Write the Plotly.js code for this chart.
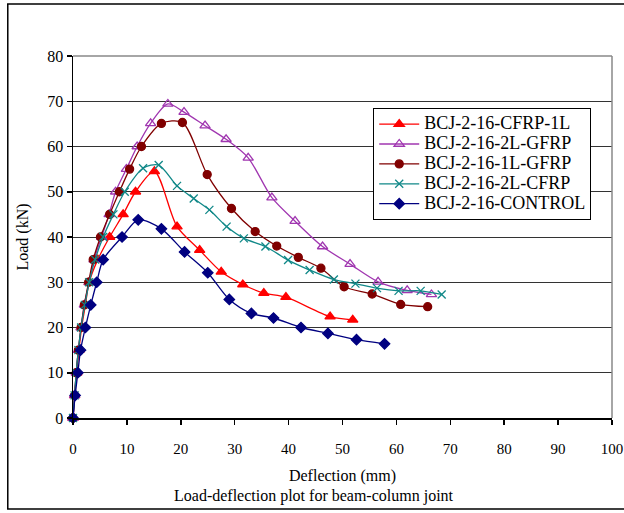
<!DOCTYPE html>
<html>
<head>
<meta charset="utf-8">
<script src="https://cdn.plot.ly/plotly-3.0.1.min.js"></script>
<style>html,body{margin:0;padding:0;background:#fff;}#chart{width:624px;height:513px;}</style>
</head>
<body>
<div id="chart"></div>
<script>
// Series names
const seriesNames = ["BCJ-2-16-CFRP-1L", "BCJ-2-16-2L-GFRP", "BCJ-2-16-1L-GFRP", "BCJ-2-16-2L-CFRP", "BCJ-2-16-CONTROL"];

// BCJ-2-16-CFRP-1L
const cfrp1L_x = [0, 0.3, 0.7, 1.1, 1.6, 2.3, 3.0, 4.6, 6.8, 9.3, 11.6, 15.1, 19.3, 23.5, 27.5, 31.5, 35.4, 39.5, 47.7, 51.9];
const cfrp1L_y = [0, 5, 10, 15, 20, 25, 30, 35, 40, 45, 50, 54.5, 42.3, 37.1, 32.3, 29.5, 27.6, 26.7, 22.4, 21.7];

// BCJ-2-16-2L-GFRP
const gfrp2L_x = [0, 0.3, 0.6, 1.0, 1.5, 2.1, 3.0, 3.9, 5.3, 6.7, 7.9, 9.9, 11.9, 14.4, 17.6, 20.6, 24.5, 28.4, 32.5, 36.9, 41.2, 46.3, 51.4, 56.6, 62.0, 66.5];
const gfrp2L_y = [0, 5, 10, 15, 20, 25, 30, 35, 40, 45, 50, 55, 60, 65.1, 69.4, 67.6, 64.6, 61.6, 57.5, 48.7, 43.5, 37.9, 34.0, 30.1, 28.2, 27.3];

// BCJ-2-16-1L-GFRP
const gfrp1L_x = [0, 0.3, 0.6, 1.0, 1.5, 2.1, 2.9, 3.75, 5.1, 6.8, 8.6, 10.5, 12.7, 16.4, 20.3, 24.9, 29.4, 33.8, 37.8, 41.8, 46.0, 50.3, 55.5, 60.8, 65.8];
const gfrp1L_y = [0, 5, 10, 15, 20, 25, 30, 35, 40, 45, 50, 55, 60, 65.1, 65.3, 53.8, 46.3, 41.2, 38.0, 35.5, 33.1, 29.0, 27.4, 25.1, 24.6];

// BCJ-2-16-2L-CFRP
const cfrp2L_x = [0, 0.3, 0.6, 1.0, 1.5, 2.2, 3.0, 4.1, 5.6, 7.5, 9.6, 13.0, 15.9, 19.3, 22.4, 25.3, 28.5, 31.7, 35.7, 39.9, 43.9, 48.4, 52.4, 56.4, 60.4, 64.5, 68.4];
const cfrp2L_y = [0, 5, 10, 15, 20, 25, 30, 35, 40, 45, 50, 55.2, 55.9, 51.3, 48.5, 46.0, 42.3, 39.7, 37.9, 34.9, 32.7, 30.6, 29.7, 28.7, 28.1, 28.1, 27.3];

// BCJ-2-16-CONTROL
const control_x = [0, 0.4, 0.9, 1.4, 2.3, 3.3, 4.4, 5.6, 9.1, 12.1, 16.4, 20.7, 25.0, 29.0, 33.1, 37.2, 42.3, 47.3, 52.6, 57.8];
const control_y = [0, 5, 10, 15, 20, 25, 30, 35, 40, 43.8, 41.8, 36.7, 32.1, 26.2, 23.1, 22.1, 20.0, 18.7, 17.3, 16.4];

// Axis ticks
const xTicks = [0, 10, 20, 30, 40, 50, 60, 70, 80, 90, 100];
const yTicks = [0, 10, 20, 30, 40, 50, 60, 70, 80];

const FONT = "Liberation Serif";

function mk(name, x, y, color, symbol, size) {
  return {
    type: "scatter", mode: "lines+markers",
    name: "<span style='font-size:18px'>" + name + "</span>",
    x: x, y: y,
    line: {color: color, width: 1.3, shape: "spline", smoothing: 0.8},
    marker: {color: color, symbol: symbol, size: size, line: {color: color, width: 1.3}},
    cliponaxis: false
  };
}

const traces = [
  mk(seriesNames[0], cfrp1L_x, cfrp1L_y, "#FF0000", "triangle-up", 9),
  mk(seriesNames[1], gfrp2L_x, gfrp2L_y, "#A036B0", "triangle-up-open", 9),
  mk(seriesNames[2], gfrp1L_x, gfrp1L_y, "#800000", "circle", 8),
  mk(seriesNames[3], cfrp2L_x, cfrp2L_y, "#108888", "x-thin-open", 8),
  mk(seriesNames[4], control_x, control_y, "#000080", "diamond", 8)
];

const layout = {
  width: 624, height: 513,
  margin: {l: 73, r: 12, t: 56, b: 95},
  paper_bgcolor: "#fff", plot_bgcolor: "#fff",
  font: {family: FONT, size: 15, color: "#000"},
  showlegend: true,
  legend: {
    x: 0.557, y: 0.856, xanchor: "left", yanchor: "top",
    bgcolor: "#fff", bordercolor: "#000", borderwidth: 1,
    font: {family: FONT, size: 13, color: "#000"},
    tracegroupgap: 0, itemwidth: 40
  },
  xaxis: {
    range: [0, 100], tickvals: xTicks, ticktext: xTicks.map(String),
    showgrid: false, zeroline: false,
    showline: true, linecolor: "#000", linewidth: 1.5,
    ticks: "outside", ticklen: 5, tickcolor: "#000", tickwidth: 1.5,
    ticklabelstandoff: 11, ticklabeloverflow: "allow",
    tickfont: {family: FONT, size: 15},
    title: {text: "Deflection (mm)", font: {family: FONT, size: 16}, standoff: 14}
  },
  yaxis: {
    range: [0, 80], tickvals: yTicks, ticktext: yTicks.map(String),
    showgrid: true, gridcolor: "#333", gridwidth: 1, zeroline: false,
    showline: true, linecolor: "#000", linewidth: 1.5,
    ticks: "outside", ticklen: 5, tickcolor: "#000", tickwidth: 1.5,
    tickfont: {family: FONT, size: 16},
    title: {text: "Load (kN)", font: {family: FONT, size: 16}, standoff: 14}
  },
  shapes: [
    {type: "line", xref: "paper", yref: "paper", x0: 0, x1: 1, y0: 1, y1: 1, line: {color: "#888", width: 1.5}},
    {type: "line", xref: "paper", yref: "paper", x0: 1, x1: 1, y0: 0, y1: 1, line: {color: "#888", width: 1.5}},
    {type: "rect", xref: "paper", yref: "paper", x0: -0.121, x1: 1.04, y0: -0.2514, y1: 1.1436, line: {color: "#000", width: 1.5}, layer: "below"}
  ],
  annotations: [
    {text: "Load-deflection plot for beam-column joint", xref: "paper", yref: "paper", x: 0.447, y: -0.2155,
     xanchor: "center", yanchor: "middle", showarrow: false, font: {family: FONT, size: 16, color: "#000"}}
  ]
};

Plotly.newPlot("chart", traces, layout, {displayModeBar: false, staticPlot: true});
</script>
</body>
</html>
